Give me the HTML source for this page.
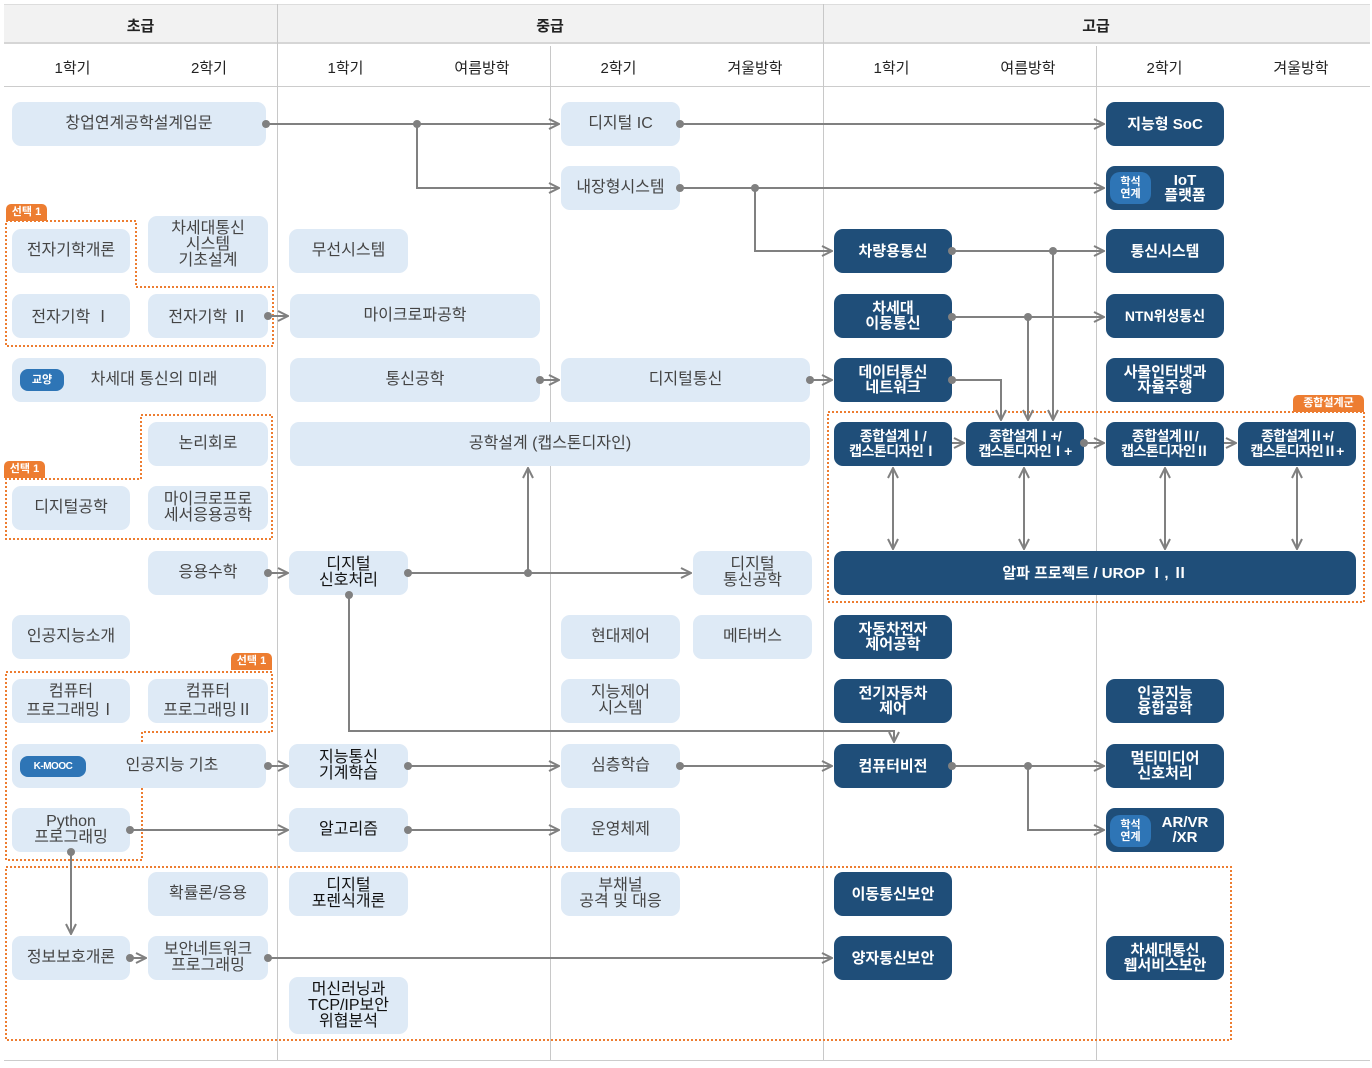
<!DOCTYPE html>
<html><head><meta charset="utf-8">
<style>
*{margin:0;padding:0;box-sizing:border-box}
body{width:1372px;height:1068px;background:#fff;position:relative;overflow:hidden;font-family:"Liberation Sans","Noto Sans CJK KR",sans-serif}
.b,.d{position:absolute;display:flex;align-items:center;justify-content:center;text-align:center;border-radius:9px;font-size:16px;line-height:16px;height:44px}
.b{background:#deeaf6;color:#444}
.d{background:#1f4e79;color:#fff;font-weight:bold;font-size:15px;line-height:15px}
.k{color:#111}
.r{font-family:"Noto Sans CJK KR",sans-serif}
.h{position:absolute;font-size:15px;color:#222;text-align:center}
.tag{position:absolute;background:#ed7d31;color:#fff;font-size:11px;font-weight:bold;border-radius:5px 5px 0 0;height:17px;line-height:17px;text-align:center}
.badge{position:absolute;background:#2e75b6;color:#fff;font-size:11px;font-weight:bold;border-radius:8px;display:flex;align-items:center;justify-content:center;line-height:12px}
.vl{position:absolute;width:1px;background:#c8c8c8}
svg{position:absolute;left:0;top:0}
</style></head><body>
<div style="position:absolute;left:4px;top:4px;width:1366px;height:40px;background:#f2f2f2;border-top:1px solid #ddd;border-bottom:2px solid #d6d6d6"></div>
<div style="position:absolute;left:4px;top:86px;width:1366px;height:1px;background:#ccc"></div>
<div style="position:absolute;left:4px;top:1060px;width:1366px;height:1px;background:#ccc"></div>
<div class="vl" style="left:277px;top:4px;height:1056px"></div>
<div class="vl" style="left:823px;top:4px;height:1056px"></div>
<div class="vl" style="left:550px;top:46px;height:1014px"></div>
<div class="vl" style="left:1096px;top:46px;height:1014px"></div>
<div class="h" style="left:4px;top:15px;width:273px;font-weight:bold">초급</div>
<div class="h" style="left:277px;top:15px;width:546px;font-weight:bold">중급</div>
<div class="h" style="left:823px;top:15px;width:546px;font-weight:bold">고급</div>
<div class="h" style="left:4px;top:57px;width:137px">1학기</div>
<div class="h" style="left:141px;top:57px;width:136px">2학기</div>
<div class="h" style="left:277px;top:57px;width:137px">1학기</div>
<div class="h" style="left:414px;top:57px;width:136px">여름방학</div>
<div class="h" style="left:550px;top:57px;width:137px">2학기</div>
<div class="h" style="left:687px;top:57px;width:136px">겨울방학</div>
<div class="h" style="left:823px;top:57px;width:137px">1학기</div>
<div class="h" style="left:960px;top:57px;width:136px">여름방학</div>
<div class="h" style="left:1096px;top:57px;width:137px">2학기</div>
<div class="h" style="left:1233px;top:57px;width:136px">겨울방학</div>

<svg width="1372" height="1068">
<g fill="none" stroke-width="2" stroke-dasharray="2 2" stroke="#ed7d31">
<path d="M6,221 H136 V287 H273 V346 H6 Z"/>
<path d="M141,415 H272 V539 H6 V479 H141 Z"/>
<path d="M6,672 H272 V732 H142 V860 H6 Z"/>
<rect x="6" y="867" width="1225" height="173"/>
<rect x="828" y="412" width="536" height="190"/>
</g>
</svg>

<div class="tag" style="left:6px;top:204px;width:41px">선택 1</div>
<div class="tag" style="left:4px;top:461px;width:41px">선택 1</div>
<div class="tag" style="left:231px;top:653px;width:41px">선택 1</div>
<div class="tag" style="left:1293px;top:395px;width:71px">종합설계군</div>

<!-- light boxes -->
<div class="b" style="left:12px;top:102px;width:254px">창업연계공학설계입문</div>
<div class="b" style="left:561px;top:102px;width:119px">디지털 IC</div>
<div class="b" style="left:561px;top:166px;width:119px">내장형시스템</div>
<div class="b" style="left:12px;top:229px;width:118px">전자기학개론</div>
<div class="b" style="left:148px;top:216px;width:120px;height:57px">차세대통신<br>시스템<br>기초설계</div>
<div class="b" style="left:289px;top:229px;width:119px">무선시스템</div>
<div class="b" style="left:12px;top:294px;width:118px"><div>전자기학 <span class="r">Ⅰ</span></div></div>
<div class="b" style="left:148px;top:294px;width:120px"><div>전자기학 <span class="r">Ⅱ</span></div></div>
<div class="b" style="left:290px;top:294px;width:250px">마이크로파공학</div>
<div class="b" style="left:12px;top:358px;width:254px;padding-left:30px">차세대 통신의 미래</div>
<div class="badge" style="left:20px;top:369px;width:44px;height:22px">교양</div>
<div class="b" style="left:290px;top:358px;width:250px">통신공학</div>
<div class="b" style="left:561px;top:358px;width:249px">디지털통신</div>
<div class="b" style="left:148px;top:422px;width:120px">논리회로</div>
<div class="b" style="left:290px;top:422px;width:520px">공학설계 (캡스톤디자인)</div>
<div class="b" style="left:12px;top:486px;width:118px">디지털공학</div>
<div class="b" style="left:148px;top:486px;width:120px">마이크로프로<br>세서응용공학</div>
<div class="b" style="left:148px;top:551px;width:120px">응용수학</div>
<div class="b k" style="left:289px;top:551px;width:119px">디지털<br>신호처리</div>
<div class="b" style="left:693px;top:551px;width:119px">디지털<br>통신공학</div>
<div class="b" style="left:12px;top:615px;width:118px">인공지능소개</div>
<div class="b" style="left:561px;top:615px;width:119px">현대제어</div>
<div class="b" style="left:693px;top:615px;width:119px">메타버스</div>
<div class="b" style="left:12px;top:679px;width:118px"><div>컴퓨터<br>프로그래밍<span class="r">Ⅰ</span></div></div>
<div class="b" style="left:148px;top:679px;width:120px"><div>컴퓨터<br>프로그래밍<span class="r">Ⅱ</span></div></div>
<div class="b" style="left:561px;top:679px;width:119px">지능제어<br>시스템</div>
<div class="b" style="left:12px;top:744px;width:254px;padding-left:66px">인공지능 기초</div>
<div class="badge" style="left:20px;top:756px;width:66px;height:21px;font-size:10px;letter-spacing:-0.5px">K-MOOC</div>
<div class="b k" style="left:289px;top:744px;width:119px">지능통신<br>기계학습</div>
<div class="b" style="left:561px;top:744px;width:119px">심층학습</div>
<div class="b" style="left:12px;top:808px;width:118px">Python<br>프로그래밍</div>
<div class="b k" style="left:289px;top:808px;width:119px">알고리즘</div>
<div class="b" style="left:561px;top:808px;width:119px">운영체제</div>
<div class="b" style="left:148px;top:872px;width:120px">확률론/응용</div>
<div class="b k" style="left:289px;top:872px;width:119px">디지털<br>포렌식개론</div>
<div class="b" style="left:561px;top:872px;width:119px">부채널<br>공격 및 대응</div>
<div class="b" style="left:12px;top:936px;width:118px">정보보호개론</div>
<div class="b" style="left:148px;top:936px;width:120px">보안네트워크<br>프로그래밍</div>
<div class="b k" style="left:289px;top:977px;width:119px;height:57px">머신러닝과<br>TCP/IP보안<br>위협분석</div>

<!-- dark boxes -->
<div class="d" style="left:1106px;top:102px;width:118px">지능형 SoC</div>
<div class="d" style="left:1106px;top:166px;width:118px;padding-left:40px">IoT<br>플랫폼</div>
<div class="badge" style="left:1110px;top:172px;width:41px;height:32px;border-radius:10px">학석<br>연계</div>
<div class="d" style="left:834px;top:229px;width:118px">차량용통신</div>
<div class="d" style="left:1106px;top:229px;width:118px">통신시스템</div>
<div class="d" style="left:834px;top:294px;width:118px">차세대<br>이동통신</div>
<div class="d" style="left:1106px;top:294px;width:118px;font-size:14px">NTN위성통신</div>
<div class="d" style="left:834px;top:358px;width:118px">데이터통신<br>네트워크</div>
<div class="d" style="left:1106px;top:358px;width:118px">사물인터넷과<br>자율주행</div>
<div class="d" style="left:834px;top:422px;width:118px;font-size:14px;letter-spacing:-0.5px"><div>종합설계<span class="r">Ⅰ</span>/<br>캡스톤디자인<span class="r">Ⅰ</span></div></div>
<div class="d" style="left:966px;top:422px;width:118px;font-size:14px;letter-spacing:-0.8px"><div>종합설계<span class="r">Ⅰ</span>+/<br>캡스톤디자인<span class="r">Ⅰ</span>+</div></div>
<div class="d" style="left:1106px;top:422px;width:118px;font-size:14px;letter-spacing:-0.5px"><div>종합설계<span class="r">Ⅱ</span>/<br>캡스톤디자인<span class="r">Ⅱ</span></div></div>
<div class="d" style="left:1238px;top:422px;width:118px;font-size:14px;letter-spacing:-0.8px"><div>종합설계<span class="r">Ⅱ</span>+/<br>캡스톤디자인<span class="r">Ⅱ</span>+</div></div>
<div class="d" style="left:834px;top:551px;width:522px"><div>알파 프로젝트 / UROP&nbsp;<span class="r">Ⅰ</span>,&nbsp;<span class="r">Ⅱ</span></div></div>
<div class="d" style="left:834px;top:615px;width:118px">자동차전자<br>제어공학</div>
<div class="d" style="left:834px;top:679px;width:118px">전기자동차<br>제어</div>
<div class="d" style="left:1106px;top:679px;width:118px">인공지능<br>융합공학</div>
<div class="d" style="left:834px;top:744px;width:118px">컴퓨터비전</div>
<div class="d" style="left:1106px;top:744px;width:118px">멀티미디어<br>신호처리</div>
<div class="d" style="left:1106px;top:808px;width:118px;padding-left:40px">AR/VR<br>/XR</div>
<div class="badge" style="left:1110px;top:815px;width:41px;height:32px;border-radius:10px">학석<br>연계</div>
<div class="d" style="left:834px;top:872px;width:118px">이동통신보안</div>
<div class="d" style="left:834px;top:936px;width:118px">양자통신보안</div>
<div class="d" style="left:1106px;top:936px;width:118px">차세대통신<br>웹서비스보안</div>

<svg width="1372" height="1068">
<defs>
<marker id="a" viewBox="0 0 12 12" refX="11" refY="6" markerWidth="12" markerHeight="12" orient="auto-start-reverse" markerUnits="userSpaceOnUse"><path d="M1,1 L11,6 L1,11" fill="none" stroke="#808080" stroke-width="2"/></marker>
</defs>
<g fill="none" stroke="#808080" stroke-width="2" marker-end="url(#a)">
<path d="M266,124 H559"/>
<path d="M417,124 V188 H559"/>
<path d="M680,124 H1104"/>
<path d="M680,188 H1104"/>
<path d="M755,188 V251 H832"/>
<path d="M952,251 H1104"/>
<path d="M1053,251 V420"/>
<path d="M952,317 H1104"/>
<path d="M1028,317 V420"/>
<path d="M952,380 H1001 V420"/>
<path d="M268,316 H288"/>
<path d="M540,380 H559"/>
<path d="M810,380 H832"/>
<path d="M268,573 H288"/>
<path d="M408,573 H691"/>
<path d="M528,573 V468"/>
<path d="M349,595 V731 H894 V742"/>
<path d="M952,443 H964"/>
<path d="M1084,443 H1104"/>
<path d="M1224,443 H1236"/>
<path d="M893,468 V549" marker-start="url(#a)"/>
<path d="M1024,468 V549" marker-start="url(#a)"/>
<path d="M1165,468 V549" marker-start="url(#a)"/>
<path d="M1297,468 V549" marker-start="url(#a)"/>
<path d="M268,766 H288"/>
<path d="M408,766 H559"/>
<path d="M680,766 H832"/>
<path d="M952,766 H1104"/>
<path d="M1028,766 V830 H1104"/>
<path d="M130,830 H288"/>
<path d="M408,830 H559"/>
<path d="M71,852 V934"/>
<path d="M130,958 H146"/>
<path d="M268,958 H832"/>
</g>
<g fill="#808080">
<circle cx="266" cy="124" r="4"/><circle cx="417" cy="124" r="4"/><circle cx="680" cy="124" r="4"/>
<circle cx="680" cy="188" r="4"/><circle cx="755" cy="188" r="4"/>
<circle cx="952" cy="251" r="4"/><circle cx="1053" cy="251" r="4"/>
<circle cx="952" cy="317" r="4"/><circle cx="1028" cy="317" r="4"/>
<circle cx="952" cy="380" r="4"/>
<circle cx="268" cy="316" r="4"/><circle cx="540" cy="380" r="4"/><circle cx="810" cy="380" r="4"/>
<circle cx="268" cy="573" r="4"/><circle cx="408" cy="573" r="4"/><circle cx="528" cy="573" r="4"/><circle cx="349" cy="595" r="4"/>
<circle cx="1084" cy="443" r="4"/>
<circle cx="268" cy="766" r="4"/><circle cx="408" cy="766" r="4"/><circle cx="680" cy="766" r="4"/><circle cx="952" cy="766" r="4"/><circle cx="1028" cy="766" r="4"/>
<circle cx="130" cy="830" r="4"/><circle cx="408" cy="830" r="4"/><circle cx="71" cy="852" r="4"/>
<circle cx="130" cy="958" r="4"/><circle cx="268" cy="958" r="4"/>
</g>
</svg>
</body></html>
